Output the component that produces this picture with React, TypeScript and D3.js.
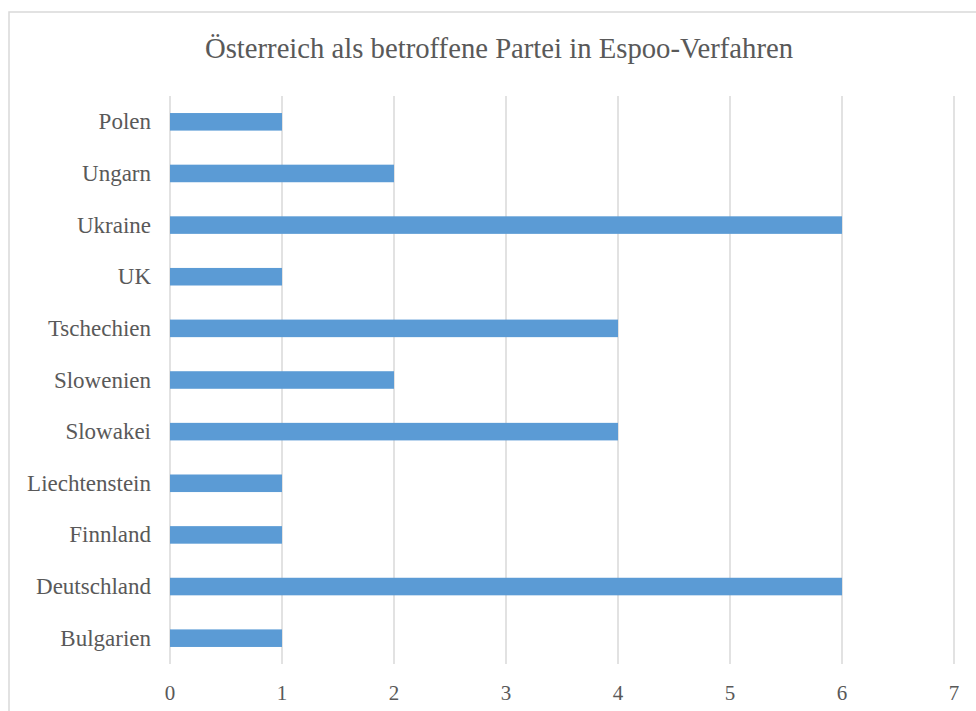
import React from "react";
import * as d3 from "d3";

const categories = ["Polen", "Ungarn", "Ukraine", "UK", "Tschechien", "Slowenien", "Slowakei", "Liechtenstein", "Finnland", "Deutschland", "Bulgarien"];
const values = [1, 2, 6, 1, 4, 2, 4, 1, 1, 6, 1];
const xTicks = [0, 1, 2, 3, 4, 5, 6, 7];
const title = "Österreich als betroffene Partei in Espoo-Verfahren";

export default function App() {
  const W = 976, H = 711;
  const left = 170, right = 954, top = 96, bottom = 664;
  const x = d3.scaleLinear().domain([0, 7]).range([left, right]);
  const y = d3.scaleBand().domain(categories).range([top, bottom]).paddingInner(0.66).paddingOuter(0.33);
  const font = "Liberation Serif";
  return (
    <svg width={W} height={H} style={{ position: "absolute", left: 0, top: 0, background: "#fff" }}>
      <rect x={9} y={12} width={990} height={720} fill="#fff" stroke="#d9d9d9" strokeWidth={1.5} />
      <text x={499} y={58} textAnchor="middle" fontFamily={font} fontSize={28.7} fill="#595959">{title}</text>
      {xTicks.map(t => (
        <g key={t}>
          <line x1={x(t)} x2={x(t)} y1={top} y2={bottom} stroke="#d9d9d9" strokeWidth={1.5} />
          <text x={x(t)} y={700} textAnchor="middle" fontFamily={font} fontSize={21} fill="#595959">{t}</text>
        </g>
      ))}
      {categories.map((c, i) => (
        <g key={c}>
          <rect x={x(0)} y={y(c)!} width={x(values[i]) - x(0)} height={y.bandwidth()} fill="#5b9bd5" />
          <text x={151} y={y(c)! + y.bandwidth() / 2} dy="0.33em" textAnchor="end" fontFamily={font} fontSize={23} fill="#595959">{c}</text>
        </g>
      ))}
    </svg>
  );
}
